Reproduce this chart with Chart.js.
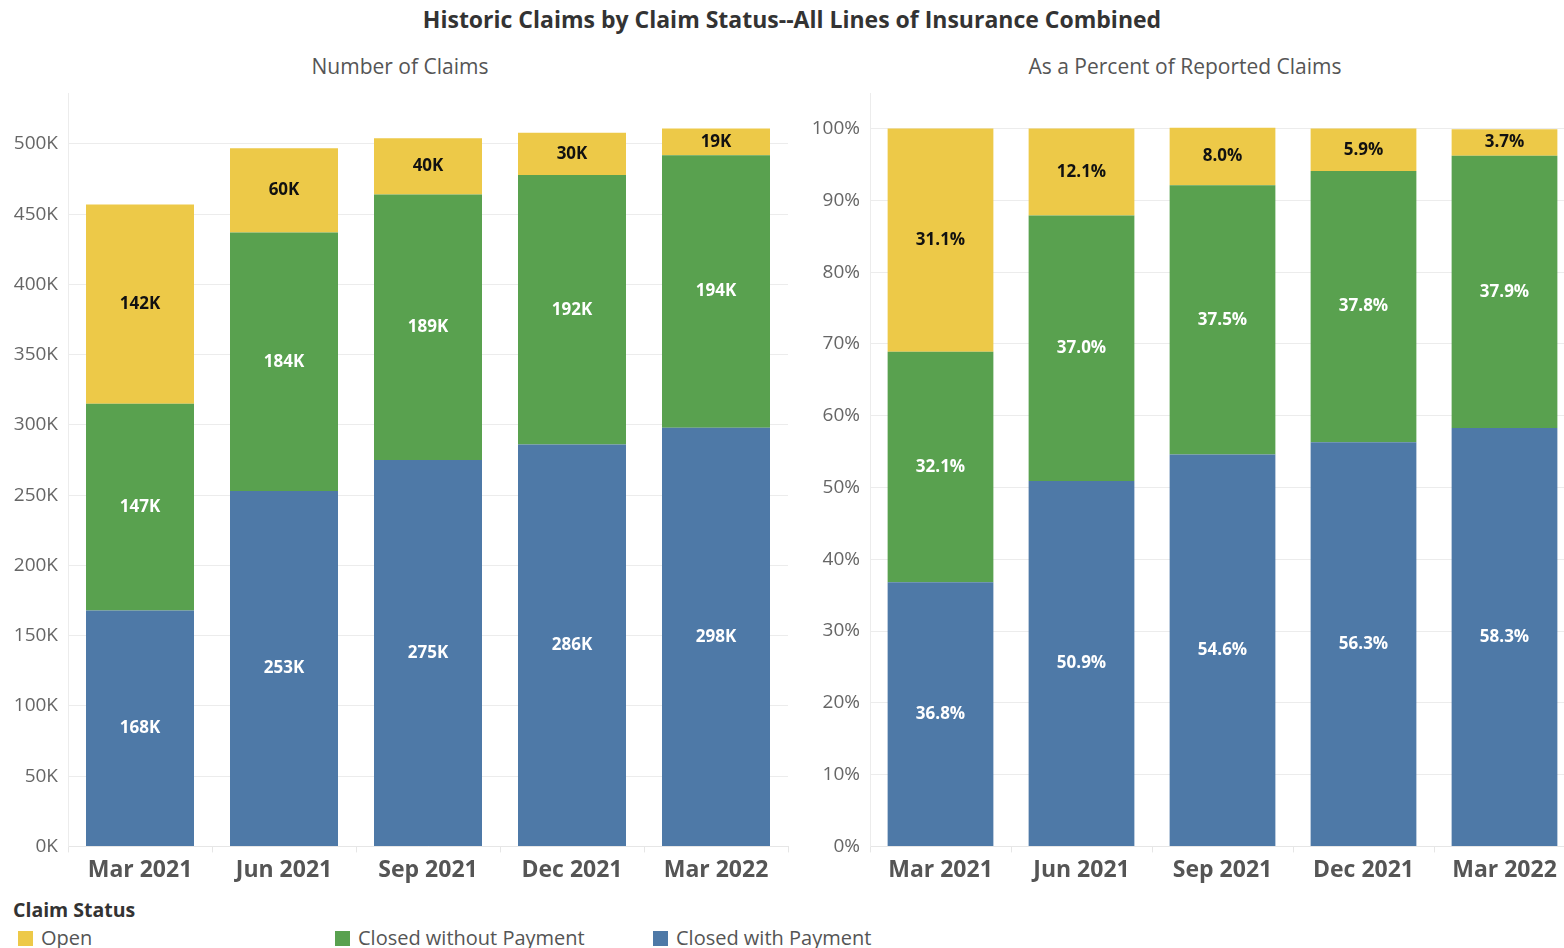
<!DOCTYPE html>
<html>
<head>
<meta charset="utf-8">
<script src="https://cdn.jsdelivr.net/npm/chart.js@4"></script>
<style>
  html, body { margin: 0; padding: 0; background: #fff; overflow: hidden; width: 1564px; height: 948px; }
  body { position: relative; font-family: "Open Sans", "Noto Sans", sans-serif; }
  #title { position: absolute; left: 0; width: 1584px; top: 3px; text-align: center; font-weight: bold; font-size: 23px; color: #333; }
  .sub { position: absolute; top: 52px; text-align: center; font-size: 21px; color: #555; }
  .box { position: absolute; }
  #legend { position: absolute; left: 13px; top: 896px; color: #333; }
  #legend .head { font-weight: bold; font-size: 19.5px; }
  #legend .item { position: absolute; top: 28px; font-size: 20px; white-space: nowrap; color: #555; }
  #legend .sw { display: inline-block; width: 15px; height: 15px; margin-right: 8px; vertical-align: -1px; }
</style>
</head>
<body>
<div id="title">Historic Claims by Claim Status--All Lines of Insurance Combined</div>
<div class="sub" style="left:0;width:800px;">Number of Claims</div>
<div class="sub" style="left:800px;width:770px;">As a Percent of Reported Claims</div>
<div class="box" style="left:0;top:72px;width:800px;height:816px;"><canvas id="countChart"></canvas></div>
<div class="box" style="left:800px;top:72px;width:780px;height:816px;"><canvas id="pctChart"></canvas></div>
<div id="legend">
  <div class="head">Claim Status</div>
  <div class="item" style="left:5px;"><span class="sw" style="background:#edc948"></span>Open</div>
  <div class="item" style="left:322px;"><span class="sw" style="background:#59a14f"></span>Closed without Payment</div>
  <div class="item" style="left:640px;"><span class="sw" style="background:#4e79a7"></span>Closed with Payment</div>
</div>
<script>
// Quarters
const quarters = ['Mar 2021', 'Jun 2021', 'Sep 2021', 'Dec 2021', 'Mar 2022'];

// Number of claims (thousands)
const withPayment = [168, 253, 275, 286, 298];
const withoutPayment = [147, 184, 189, 192, 194];
const openClaims = [142, 60, 40, 30, 19];

// Percent of reported claims
const withPaymentPct = [36.8, 50.9, 54.6, 56.3, 58.3];
const withoutPaymentPct = [32.1, 37.0, 37.5, 37.8, 37.9];
const openPct = [31.1, 12.1, 8.0, 5.9, 3.7];

const colors = { paid: '#4e79a7', unpaid: '#59a14f', open: '#edc948' };
const fontFamily = '"Open Sans", "Noto Sans", sans-serif';

// Draws the value in the middle of each bar segment
const segmentLabels = {
    id: 'segmentLabels',
    afterDatasetsDraw(chart, args, opts) {
        const ctx = chart.ctx;
        ctx.save();
        ctx.font = 'bold 17px ' + fontFamily;
        ctx.textAlign = 'center';
        ctx.textBaseline = 'middle';
        chart.data.datasets.forEach((ds, i) => {
            const meta = chart.getDatasetMeta(i);
            meta.data.forEach((bar, j) => {
                ctx.fillStyle = ds.labelColor;
                ctx.fillText(opts.format(ds.data[j]), bar.x, (bar.y + bar.base) / 2);
            });
        });
        ctx.restore();
    }
};

function makeOptions(yMax, step, yWidth, tickFmt, labelFmt, padRight) {
    return {
        responsive: true,
        maintainAspectRatio: false,
        animation: false,
        layout: { padding: { top: 4, right: padRight, bottom: 0, left: 0 } },
        plugins: {
            legend: { display: false },
            tooltip: { enabled: false },
            segmentLabels: { format: labelFmt }
        },
        scales: {
            x: {
                stacked: true,
                grid: { display: true, drawOnChartArea: false, color: '#e6e6e6', tickLength: 6 },
                border: { color: '#e6e6e6' },
                ticks: { color: '#555', padding: 4, font: { family: fontFamily, size: 23, weight: 'bold' } }
            },
            y: {
                stacked: true,
                min: 0,
                max: yMax,
                afterFit(scale) { scale.width = yWidth; },
                grid: { color: '#ececec', drawTicks: false },
                border: { color: '#ececec' },
                ticks: {
                    stepSize: step,
                    includeBounds: false,
                    padding: 10,
                    color: '#666',
                    font: { family: fontFamily, size: 19 },
                    callback: tickFmt
                }
            }
        }
    };
}

new Chart(document.getElementById('countChart'), {
    type: 'bar',
    data: {
        labels: quarters,
        datasets: [
            { label: 'Closed with Payment', data: withPayment, backgroundColor: colors.paid, labelColor: '#fff', barPercentage: 0.75, categoryPercentage: 1 },
            { label: 'Closed without Payment', data: withoutPayment, backgroundColor: colors.unpaid, labelColor: '#fff', barPercentage: 0.75, categoryPercentage: 1 },
            { label: 'Open', data: openClaims, backgroundColor: colors.open, labelColor: '#111', barPercentage: 0.75, categoryPercentage: 1 }
        ]
    },
    options: makeOptions(536, 50, 68, v => v + 'K', v => v + 'K', 12),
    plugins: [segmentLabels]
});

new Chart(document.getElementById('pctChart'), {
    type: 'bar',
    data: {
        labels: quarters,
        datasets: [
            { label: 'Closed with Payment', data: withPaymentPct, backgroundColor: colors.paid, labelColor: '#fff', barPercentage: 0.75, categoryPercentage: 1 },
            { label: 'Closed without Payment', data: withoutPaymentPct, backgroundColor: colors.unpaid, labelColor: '#fff', barPercentage: 0.75, categoryPercentage: 1 },
            { label: 'Open', data: openPct, backgroundColor: colors.open, labelColor: '#111', barPercentage: 0.75, categoryPercentage: 1 }
        ]
    },
    options: makeOptions(104.9, 10, 70, v => v + '%', v => v.toFixed(1) + '%', 5),
    plugins: [segmentLabels]
});
</script>
</body>
</html>
